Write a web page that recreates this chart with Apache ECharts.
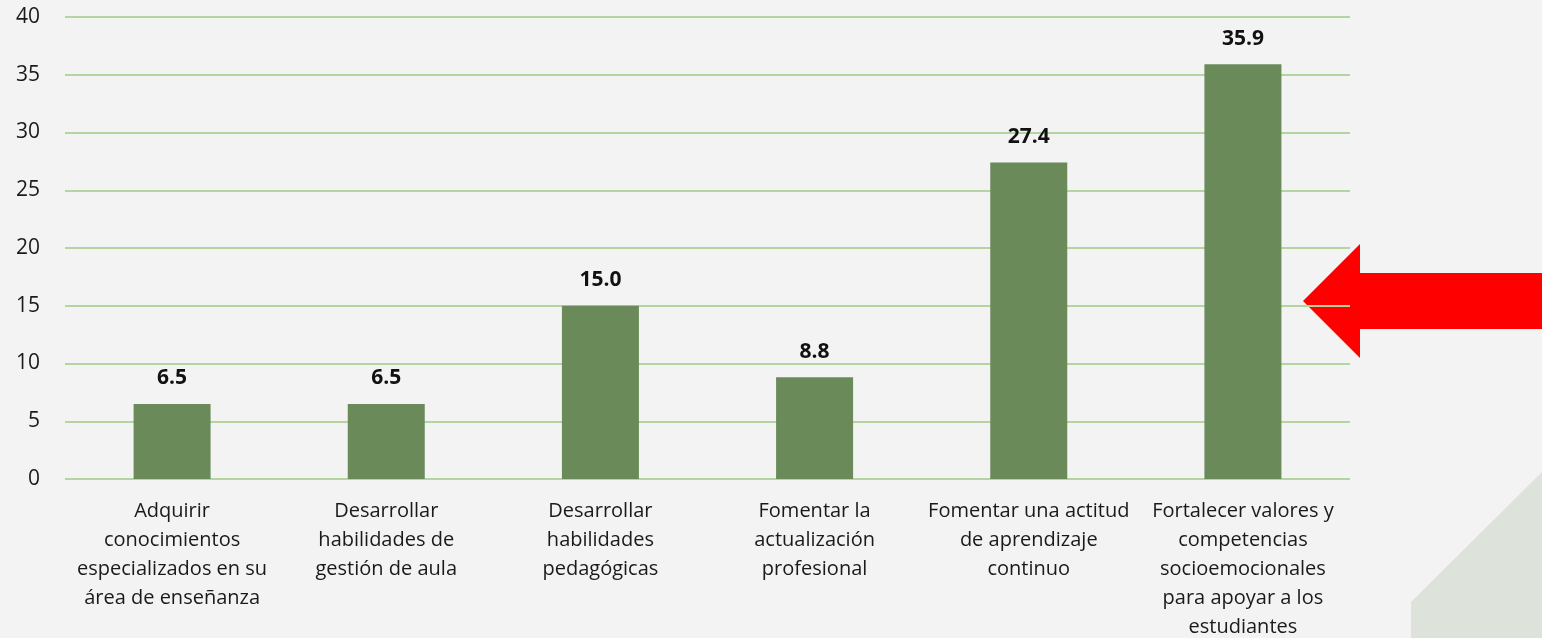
<!DOCTYPE html>
<html>
<head>
<meta charset="utf-8">
<script src="https://cdn.jsdelivr.net/npm/echarts@6/dist/echarts.min.js"></script>
<style>
  html, body { margin: 0; padding: 0; background: #f3f3f3; }
  #chart { width: 1542px; height: 638px; }
</style>
</head>
<body>
<div id="chart"></div>
<script>
'use strict';

var categories = [
  'Adquirir\nconocimientos\nespecializados en su\nárea de enseñanza',
  'Desarrollar\nhabilidades de\ngestión de aula',
  'Desarrollar\nhabilidades\npedagógicas',
  'Fomentar la\nactualización\nprofesional',
  'Fomentar una actitud\nde aprendizaje\ncontinuo',
  'Fortalecer valores y\ncompetencias\nsocioemocionales\npara apoyar a los\nestudiantes'
];
var values = [6.5, 6.5, 15.0, 8.8, 27.4, 35.9];

var myChart = echarts.init(document.getElementById('chart'));
var font = '"Open Sans", "Liberation Sans", sans-serif';

var option = {
  backgroundColor: '#f3f3f3',
  animation: false,
  grid: { left: 65, right: 192, top: 17, bottom: 159, outerBoundsMode: 'none' },
  xAxis: {
    type: 'category',
    data: categories,
    axisLine: { show: false },
    axisTick: { show: false },
    axisLabel: {
      interval: 0,
      margin: 18,
      color: '#1a1a1a',
      fontFamily: font,
      fontSize: 20,
      lineHeight: 29
    }
  },
  yAxis: {
    type: 'value',
    min: 0,
    max: 40,
    interval: 5,
    axisLine: { show: false },
    axisTick: { show: false },
    axisLabel: {
      margin: 25,
      color: '#1a1a1a',
      fontFamily: font,
      fontSize: 21
    },
    splitLine: { lineStyle: { color: '#b4d4a0', width: 2 } }
  },
  series: [{
    type: 'bar',
    data: values,
    barWidth: 77,
    itemStyle: { color: '#6b8a5a' },
    label: {
      show: true,
      position: 'top',
      distance: 15,
      color: '#111',
      fontFamily: font,
      fontWeight: 'bold',
      fontSize: 21,
      formatter: function (p) { return p.value.toFixed(1); }
    }
  }],
  graphic: [
    {
      type: 'polygon',
      z: -1,
      shape: { points: [[1411, 602], [1542, 472], [1542, 638], [1411, 638]] },
      style: { fill: '#dde3da' }
    },
    {
      type: 'polygon',
      shape: {
        points: [[1303, 301], [1360, 244], [1360, 273], [1542, 273],
                 [1542, 329], [1360, 329], [1360, 358]]
      },
      style: { fill: '#ff0000' }
    }
  ]
};

myChart.setOption(option);
</script>
</body>
</html>
